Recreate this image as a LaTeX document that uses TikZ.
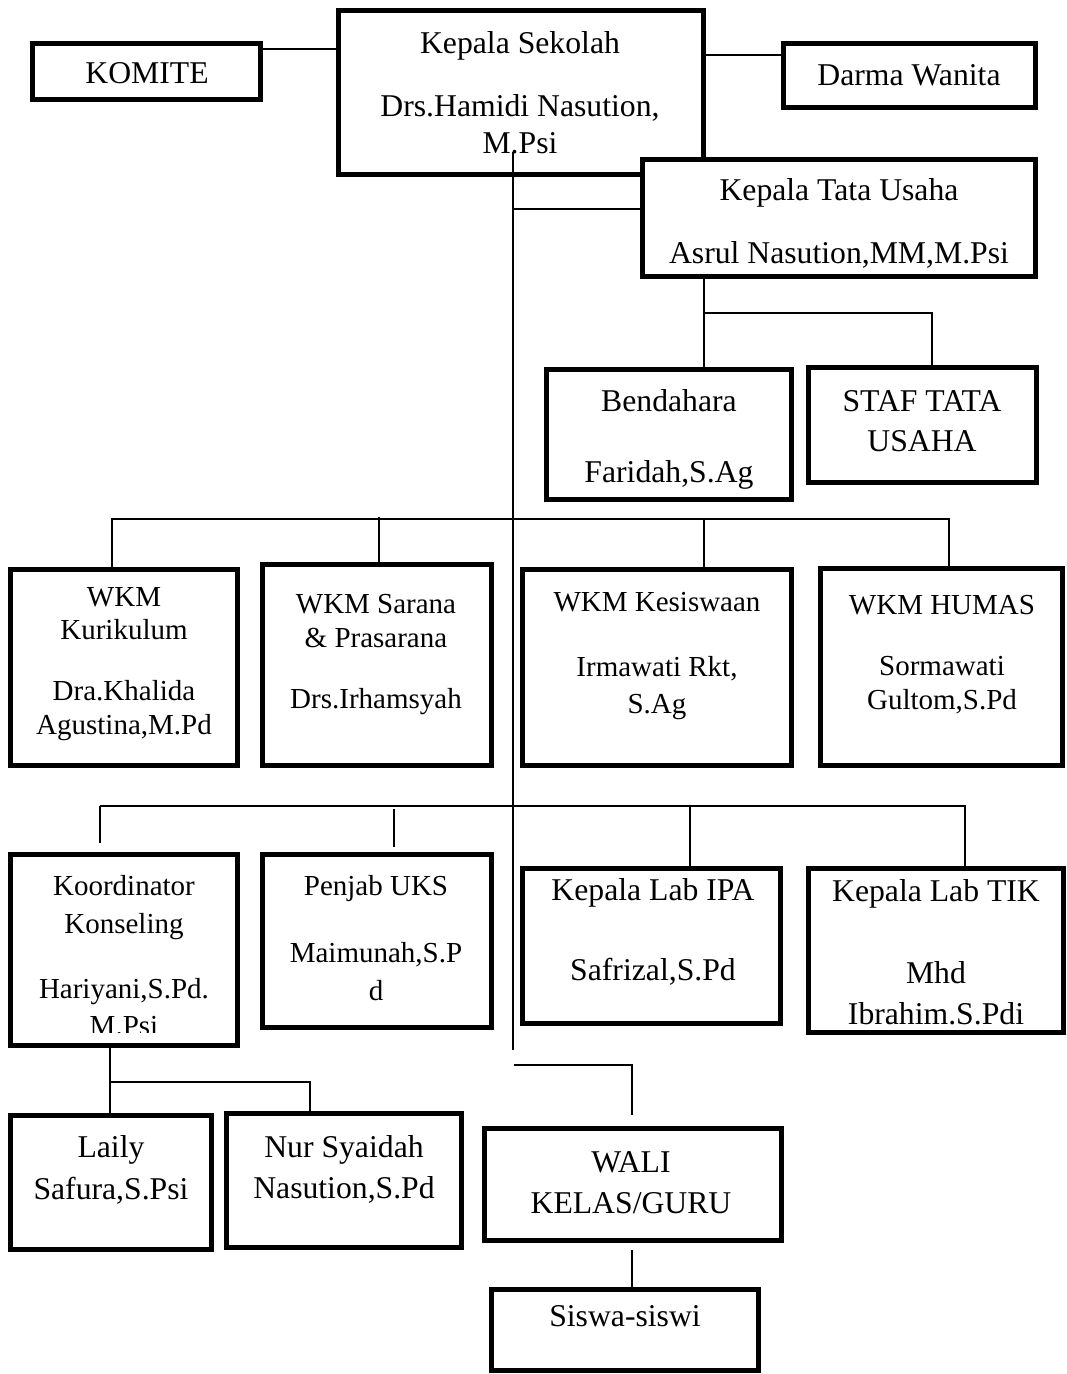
\documentclass[tikz,border=0pt]{standalone}
\usepackage{fontspec}
\setmainfont{Liberation Serif}
\tikzset{
  box/.style={draw, fill=white, line width=5pt, inner sep=0pt},
  big/.style={align=center, inner sep=0pt, font=\fontsize{31.7}{41}\selectfont},
  small/.style={align=center, inner sep=0pt, font=\fontsize{29}{34}\selectfont},
  link/.style={line width=1.4pt}
}
\begin{document}
\begin{tikzpicture}[x=1pt, y=-1pt]
\useasboundingbox (0,0) rectangle (1066,1374);
\node[box, minimum width=228pt, minimum height=56pt] (komite) at (146.5,71.5) {};
\node[box, minimum width=365pt, minimum height=164pt] (ks) at (521,92.5) {};
\node[box, minimum width=252pt, minimum height=64pt] (dw) at (909.5,75.5) {};
\node[box, minimum width=393pt, minimum height=117pt] (ktu) at (839,218) {};
\node[box, minimum width=245pt, minimum height=130pt] (bend) at (669,434.5) {};
\node[box, minimum width=228pt, minimum height=115pt] (staf) at (922.5,425) {};
\node[box, minimum width=227.5pt, minimum height=196pt] (kur) at (123.75,667.5) {};
\node[box, minimum width=229pt, minimum height=201pt] (sar) at (377,665) {};
\node[box, minimum width=269pt, minimum height=196pt] (kes) at (657,667.5) {};
\node[box, minimum width=242pt, minimum height=197pt] (hum) at (941.5,667) {};
\node[box, minimum width=227.5pt, minimum height=191pt] (koord) at (123.75,950) {};
\node[box, minimum width=229pt, minimum height=173pt] (uks) at (377,941) {};
\node[box, minimum width=258pt, minimum height=155pt] (ipa) at (651.5,946) {};
\node[box, minimum width=255pt, minimum height=164pt] (tik) at (936,950.5) {};
\node[box, minimum width=201.5pt, minimum height=134pt] (laily) at (110.75,1182.5) {};
\node[box, minimum width=235pt, minimum height=134pt] (nur) at (344,1180.5) {};
\node[box, minimum width=297pt, minimum height=112pt] (wali) at (633,1184.5) {};
\node[box, minimum width=267pt, minimum height=81pt] (siswa) at (625,1330) {};

\node[big] (komite-t) at (147,73) {KOMITE};
\node[big] (ks-t) at (520,93) {Kepala Sekolah\\[22pt]Drs.Hamidi Nasution,\\[-4pt]M.Psi};
\node[big] (dw-t) at (909,75) {Darma Wanita};
\node[big] (ktu-t) at (839,223) {Kepala Tata Usaha\\[22pt]Asrul Nasution,MM,M.Psi};
\node[big] (bend-t) at (669,439) {Bendahara\\[30pt]Faridah,S.Ag};
\node[big] (staf-t) at (922,421) {STAF TATA\\[-1pt]USAHA};
\node[small] (kur-t) at (124,664) {WKM\\[-1pt]Kurikulum\\[27pt]Dra.Khalida\\Agustina,M.Pd};
\node[small] (sar-t) at (376,655) {WKM Sarana\\\& Prasarana\\[27pt]Drs.Irhamsyah};
\node[small] (kes-t) at (657,656) {WKM Kesiswaan\\[31pt]Irmawati Rkt,\\[3pt]S.Ag};
\node[small] (hum-t) at (942,655) {WKM HUMAS\\[27pt]Sormawati\\Gultom,S.Pd};
\begin{scope}
\clip (10,854) rectangle (238,1032);
\node[small] (koord-t) at (124,956) {Koordinator\\[4pt]Konseling\\[31pt]Hariyani,S.Pd.\\[3pt]M.Psi};
\end{scope}
\node[small] (uks-t) at (376,938) {Penjab UKS\\[33pt]Maimunah,S.P\\[4pt]d};
\node[big] (ipa-t) at (653,932) {Kepala Lab IPA\\[39pt]Safrizal,S.Pd};
\node[big] (tik-t) at (936,952) {Kepala Lab TIK\\[41pt]Mhd\\Ibrahim.S.Pdi};
\node[big] (laily-t) at (111,1170) {Laily\\[1pt]Safura,S.Psi};
\node[big] (nur-t) at (344,1169) {Nur Syaidah\\Nasution,S.Pd};
\node[big] (wali-t) at (631,1183) {WALI\\KELAS/GURU};
\node[big] (siswa-t) at (625,1316) {Siswa-siswi};

\coordinate (top) at (513,152);
\coordinate (bot) at (513,1050);
\draw[link] (top) -- (bot);
\draw[link] (komite.east |- 0,49) -- (ks.west |- 0,49);
\draw[link] (ks.east |- 0,55) -- (dw.west |- 0,55);
\draw[link] (top |- 0,209) -- (ktu.west |- 0,209);
\draw[link] (ktu.south -| 704,0) -- (bend.north -| 704,0);
\draw[link] (704,313) -| (staf.north -| 932,0);
\draw[link] (kur.north -| 112,0) -- (112,519) -- (949,519) -- (hum.north -| 949,0);
\draw[link] (379,517) -- (sar.north -| 379,0);
\draw[link] (704,518) -- (kes.north -| 704,0);
\draw[link, shorten >=9pt] (100,806) -- (koord.north -| 100,0);
\draw[link] (100,806) -- (965,806) -- (tik.north -| 965,0);
\draw[link, shorten <=3pt, shorten >=5pt] (394,806) -- (uks.north -| 394,0);
\draw[link] (690,806) -- (ipa.north -| 690,0);
\draw[link] (koord.south -| 110,0) -- (laily.north -| 110,0);
\draw[link] (110,1082) -| (nur.north -| 310,0);
\draw[link, shorten >=11pt] (514,1065) -| (wali.north -| 632,0);
\draw[link, shorten <=7pt] (wali.south -| 632,0) -- (siswa.north -| 632,0);
\end{tikzpicture}
\end{document}
